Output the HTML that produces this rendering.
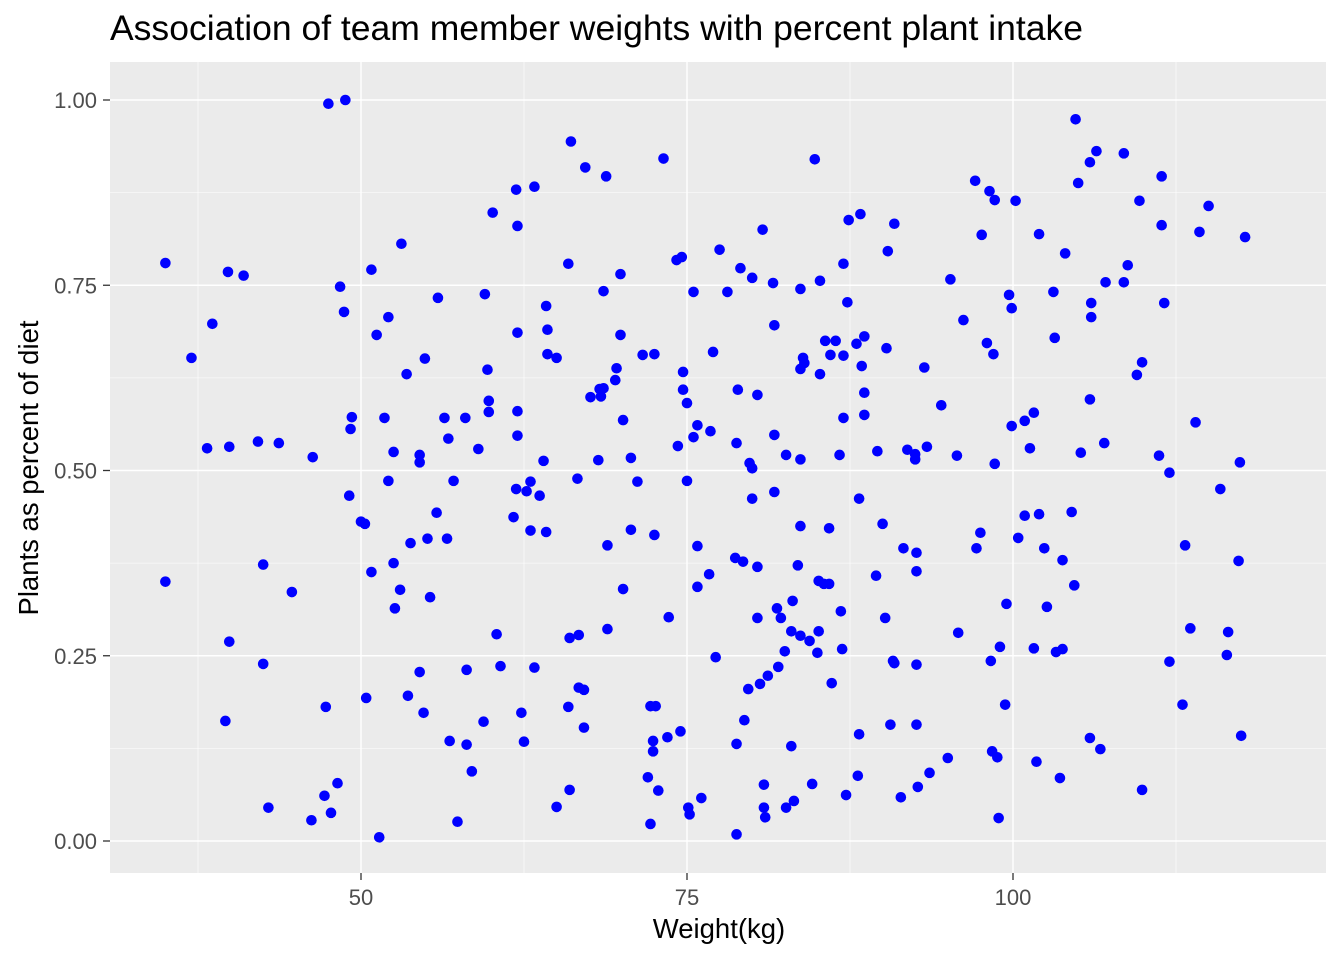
<!DOCTYPE html>
<html><head><meta charset="utf-8"><style>
body{margin:0;background:#fff;}
svg text{font-family:"Liberation Sans",sans-serif;}
</style></head><body>
<svg id="chart" width="1344" height="960" xmlns="http://www.w3.org/2000/svg">
<rect width="1344" height="960" fill="#fff"/>
<text x="110" y="40" font-size="35" textLength="973" lengthAdjust="spacingAndGlyphs" fill="#000">Association of team member weights with percent plant intake</text>
<rect x="110" y="62" width="1216" height="811" fill="#ebebeb"/>
<g id="grid"></g>
<g id="points"></g>
<g id="axes"></g>
<text x="719" y="938" font-size="27.5" text-anchor="middle" fill="#000">Weight(kg)</text>
<text transform="translate(38,468) rotate(-90)" font-size="27.5" text-anchor="middle" fill="#000">Plants as percent of diet</text>
</svg>
<script>
const xTicks=[50,75,100];
const xMinor=[37.5,62.5,87.5,112.5];
const yTicks=[0,0.25,0.5,0.75,1];
const yTickLabels=["0.00","0.25","0.50","0.75","1.00"];
const yMinor=[0.125,0.375,0.625,0.875];
const weight=[35.0,35.0,37.0,38.2,38.6,39.8,39.9,39.9,39.6,41.0,42.1,42.5,42.5,42.9,43.7,44.7,46.3,46.2,47.2,47.3,47.5,47.7,48.2,48.4,48.7,48.8,49.1,49.2,49.3,50.0,50.3,50.4,50.8,50.8,51.2,51.4,51.8,52.1,52.1,52.5,52.5,52.6,53.0,53.1,53.5,53.6,53.8,54.5,54.5,54.5,54.8,54.9,55.1,55.3,55.8,55.9,56.4,56.6,56.8,56.7,57.1,57.4,58.0,58.1,58.1,58.5,59.0,59.5,59.4,59.7,59.8,59.8,60.4,60.7,60.1,61.9,61.7,61.9,62.0,62.0,62.0,62.0,62.3,62.5,62.7,63.0,63.0,63.3,63.3,63.7,64.0,64.2,64.2,64.3,64.3,65.0,65.0,65.9,65.9,66.0,66.0,66.1,66.6,66.7,66.7,67.1,67.1,67.2,67.6,68.3,68.4,68.6,68.2,68.6,68.8,68.9,68.9,69.5,69.6,69.9,69.9,70.1,70.1,70.7,70.7,71.2,71.6,72.5,72.5,72.0,72.2,72.6,72.2,72.4,72.4,72.8,73.2,73.5,73.6,74.3,74.2,74.6,74.5,74.7,74.7,75.0,75.0,75.1,75.2,75.5,75.5,75.8,75.8,75.8,76.1,76.7,76.8,77.0,77.2,77.5,78.1,78.7,78.8,78.9,78.8,78.8,79.1,79.3,79.4,79.7,79.8,80.0,80.0,80.0,80.4,80.4,80.4,80.6,80.8,80.9,80.9,81.0,81.2,81.6,81.7,81.7,81.7,81.9,82.0,82.2,82.5,82.6,82.6,83.0,83.1,83.0,83.2,83.5,83.7,83.7,83.7,83.7,83.7,83.9,84.0,84.4,84.6,84.8,85.0,85.1,85.2,85.2,85.1,85.5,85.6,85.9,85.9,86.0,86.1,86.4,86.7,86.8,86.9,87.0,87.0,87.0,87.2,87.3,87.4,88.0,88.2,88.2,88.1,88.3,88.4,88.6,88.6,88.6,89.5,89.6,90.0,90.2,90.4,90.3,90.8,90.9,90.6,90.9,91.4,91.6,91.9,92.5,92.5,92.6,92.6,92.6,92.6,92.7,93.2,93.4,93.6,94.5,95.0,95.2,95.7,95.8,96.2,97.1,97.2,97.5,97.6,98.0,98.2,98.3,98.4,98.5,98.6,98.6,98.8,98.9,99.0,99.4,99.5,99.7,99.9,99.9,100.2,100.4,100.9,100.9,101.3,101.6,101.6,101.8,102.0,102.0,102.4,102.6,103.1,103.2,103.3,103.6,103.8,103.8,104.0,104.5,104.7,104.8,105.0,105.2,105.9,106.0,106.0,105.9,105.9,106.4,106.7,107.0,107.1,108.5,108.5,108.8,109.5,109.7,109.9,109.9,111.2,111.4,111.4,111.6,112.0,112.0,113.0,113.2,113.6,114.0,114.3,115.0,115.9,116.4,116.5,117.3,117.5,117.4,117.8];
const plant=[0.780,0.350,0.652,0.530,0.698,0.768,0.532,0.269,0.162,0.763,0.539,0.373,0.239,0.045,0.537,0.336,0.518,0.028,0.061,0.181,0.995,0.038,0.078,0.748,0.714,1.000,0.466,0.556,0.572,0.431,0.428,0.193,0.363,0.771,0.683,0.005,0.571,0.486,0.707,0.525,0.375,0.314,0.339,0.806,0.630,0.196,0.402,0.521,0.511,0.228,0.173,0.651,0.408,0.329,0.443,0.733,0.571,0.408,0.135,0.543,0.486,0.026,0.571,0.231,0.130,0.094,0.529,0.738,0.161,0.636,0.594,0.579,0.279,0.236,0.848,0.879,0.437,0.475,0.547,0.580,0.830,0.686,0.173,0.134,0.472,0.485,0.419,0.883,0.234,0.466,0.513,0.417,0.722,0.690,0.657,0.652,0.046,0.779,0.181,0.274,0.069,0.944,0.489,0.278,0.207,0.204,0.153,0.909,0.599,0.610,0.600,0.611,0.514,0.742,0.897,0.286,0.399,0.622,0.638,0.765,0.683,0.568,0.340,0.517,0.420,0.485,0.656,0.657,0.413,0.086,0.182,0.182,0.023,0.135,0.121,0.068,0.921,0.140,0.302,0.533,0.784,0.788,0.148,0.633,0.609,0.591,0.486,0.045,0.036,0.741,0.545,0.561,0.398,0.343,0.058,0.360,0.553,0.660,0.248,0.798,0.741,0.382,0.537,0.609,0.131,0.009,0.773,0.377,0.163,0.205,0.510,0.503,0.760,0.462,0.602,0.370,0.301,0.212,0.825,0.076,0.045,0.032,0.223,0.753,0.696,0.548,0.471,0.314,0.235,0.301,0.256,0.521,0.045,0.283,0.324,0.128,0.054,0.372,0.637,0.745,0.515,0.425,0.277,0.652,0.645,0.270,0.077,0.920,0.254,0.283,0.756,0.630,0.351,0.347,0.675,0.347,0.422,0.656,0.213,0.675,0.521,0.310,0.259,0.571,0.655,0.779,0.062,0.727,0.838,0.671,0.462,0.144,0.088,0.846,0.641,0.605,0.681,0.575,0.358,0.526,0.428,0.301,0.796,0.665,0.243,0.833,0.157,0.240,0.059,0.395,0.528,0.522,0.515,0.389,0.364,0.238,0.157,0.073,0.639,0.532,0.092,0.588,0.112,0.758,0.520,0.281,0.703,0.891,0.395,0.416,0.818,0.672,0.877,0.243,0.121,0.657,0.509,0.865,0.113,0.031,0.262,0.184,0.320,0.737,0.719,0.560,0.864,0.409,0.439,0.567,0.530,0.578,0.260,0.107,0.441,0.819,0.395,0.316,0.741,0.679,0.255,0.085,0.259,0.379,0.793,0.444,0.345,0.974,0.888,0.524,0.916,0.726,0.707,0.596,0.139,0.931,0.124,0.537,0.754,0.928,0.754,0.777,0.629,0.864,0.646,0.069,0.520,0.897,0.831,0.726,0.497,0.242,0.184,0.399,0.287,0.565,0.822,0.857,0.475,0.251,0.282,0.378,0.142,0.511,0.815];

const PL=110,PR=1326,PT=62,PB=873;
function sx(v){return 361+(v-50)*13.04;}
function sy(v){return 841-v*741;}
const NS="http://www.w3.org/2000/svg";
const grid=document.getElementById('grid');
const axes=document.getElementById('axes');
const pts=document.getElementById('points');
function mk(tag,attrs,parent){const e=document.createElementNS(NS,tag);for(const k in attrs)e.setAttribute(k,attrs[k]);parent.appendChild(e);return e;}
xMinor.forEach(v=>{const l=mk('line',{x1:sx(v),x2:sx(v),y1:PT,y2:PB,stroke:'#fff','stroke-width':0.6},grid);

});
yMinor.forEach(v=>{const l=mk('line',{x1:PL,x2:PR,y1:sy(v),y2:sy(v),stroke:'#fff','stroke-width':0.6},grid);

});
xTicks.forEach(v=>{const l=mk('line',{x1:sx(v),x2:sx(v),y1:PT,y2:PB,stroke:'#fff','stroke-width':1.4},grid);


const t=mk('line',{x1:sx(v),x2:sx(v),y1:PB,y2:PB+7,stroke:'#333','stroke-width':1.3},axes);


const tx=mk('text',{x:sx(v),y:PB+32,'font-size':22,'text-anchor':'middle',fill:'#4d4d4d'},axes);
tx.textContent=String(v);

});
yTicks.forEach((v,i)=>{const l=mk('line',{x1:PL,x2:PR,y1:sy(v),y2:sy(v),stroke:'#fff','stroke-width':1.4},grid);


const t=mk('line',{x1:PL-7,x2:PL,y1:sy(v),y2:sy(v),stroke:'#333','stroke-width':1.3},axes);


const tx=mk('text',{x:PL-13,y:sy(v)+8,'font-size':22,'text-anchor':'end',fill:'#4d4d4d'},axes);
tx.textContent=yTickLabels[i];

});
weight.forEach((w,i)=>{const c=mk('circle',{cx:sx(w),cy:sy(plant[i]),r:5.3,fill:'#0000ff'},pts);

});
</script>
</body></html>
